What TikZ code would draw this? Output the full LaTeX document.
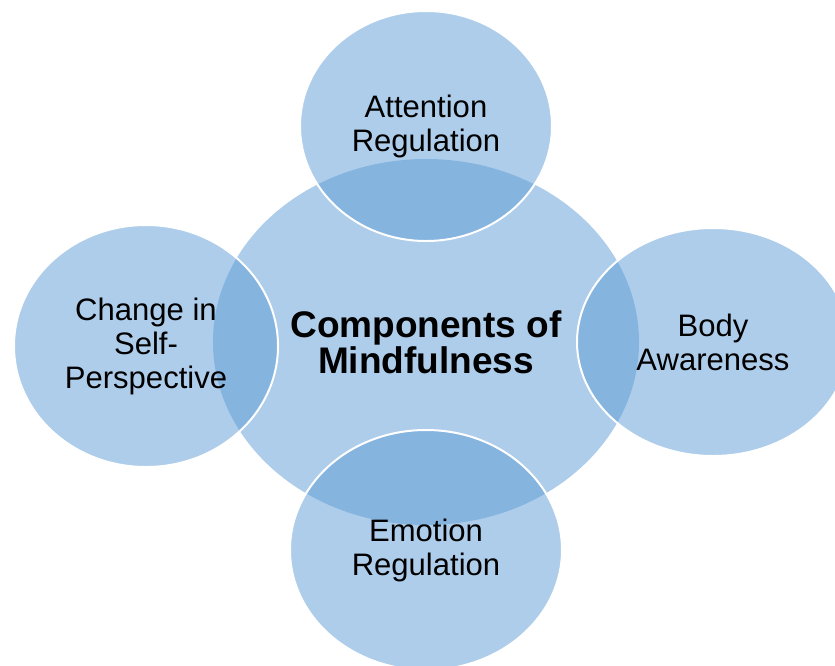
\documentclass[tikz,border=0pt]{standalone}
\usepackage{fontspec}
\setmainfont{Liberation Sans}
\usetikzlibrary{shapes.geometric}
\definecolor{mindblue}{RGB}{93,155,213}

\begin{document}
\begin{tikzpicture}[x=0.03cm, y=-0.03cm,
    every node/.style={align=center, ellipse, inner sep=0pt, fill=mindblue, fill opacity=0.5, text opacity=1},
    core/.style={minimum width=12.78cm, minimum height=10.98cm, font=\fontsize{31.6}{30.7}\selectfont\bfseries},
    part/.style={draw=white, line width=0.06cm, font=\fontsize{26.5}{29}\selectfont}]
    \useasboundingbox (0,0) rectangle (835,665);
    \clip (0,0) rectangle (835,665);
    \node[core] (mind) at (426,342) {Components of\\Mindfulness};
    \node[part, minimum width=7.56cm, minimum height=6.9cm] (att) at (426,126) {Attention\\Regulation};
    \node[part, minimum width=7.92cm, minimum height=7.26cm] (self) at (146,346) {Change in\\Self-\\Perspective};
    \node[part, minimum width=8.16cm, minimum height=6.84cm] (body) at (713,342) {Body\\Awareness};
    \node[part, minimum width=8.16cm, minimum height=7.2cm] (emo) at (426,550) {Emotion\\Regulation};
\end{tikzpicture}
\end{document}
